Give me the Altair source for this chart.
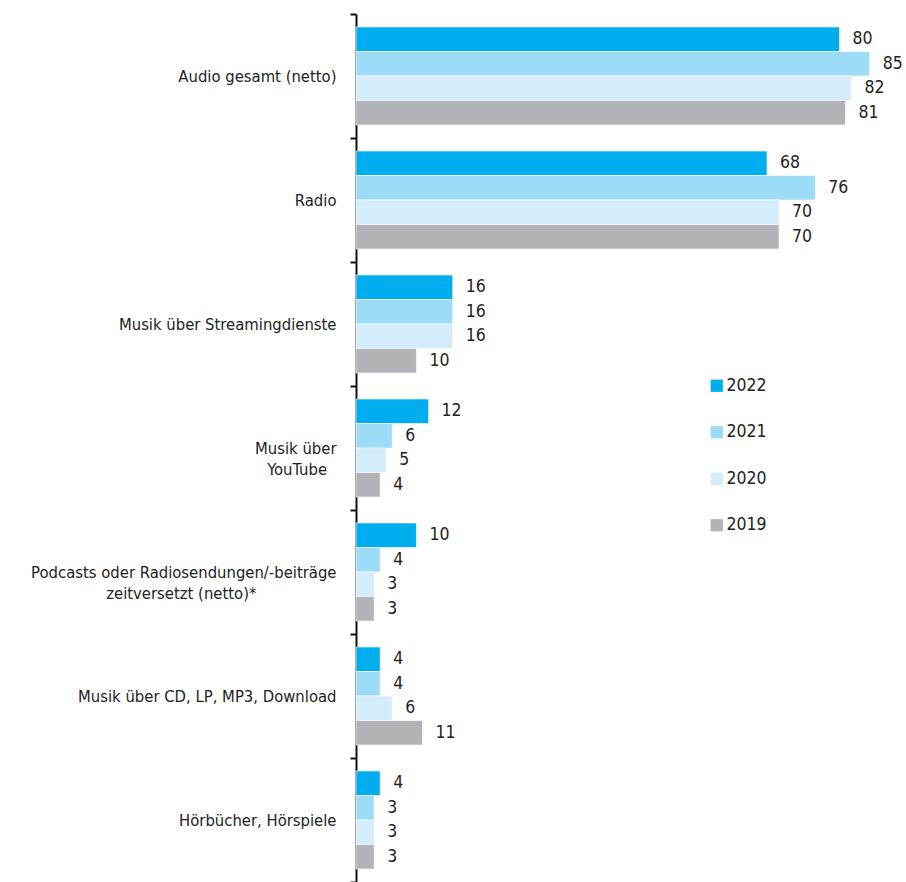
import altair as alt
import pandas as pd

NB = "\u00a0"
ZW = "\u200b"
categories = [
    "Audio gesamt (netto)",
    "Radio",
    "Musik über Streamingdienste",
    "Musik über|YouTube" + NB * 2 + ZW,
    "Podcasts oder Radiosendungen/-beiträge|zeitversetzt (netto)*" + NB * 17 + ZW,
    "Musik über CD, LP, MP3, Download",
    "Hörbücher, Hörspiele",
]
years = ["2022", "2021", "2020", "2019"]
values = {
    "2022": [80, 68, 16, 12, 10, 4, 4],
    "2021": [85, 76, 16, 6, 4, 4, 3],
    "2020": [82, 70, 16, 5, 3, 6, 3],
    "2019": [81, 70, 10, 4, 3, 11, 3],
}
colors = ["#00adef", "#9ddcf7", "#d5edfa", "#b1b3b6"]

rows = []
for y in years:
    for c, v in zip(categories, values[y]):
        rows.append({"cat": c, "year": y, "value": v})
df = pd.DataFrame(rows)

FONT = "DejaVu Sans Condensed, Roboto, sans-serif"

y_axis = alt.Axis(
    tickBand="extent",
    grid=False,
    domainColor="#111",
    domainWidth=2,
    tickColor="#111",
    tickWidth=2,
    tickSize=6,
    labelPadding=14,
    labelFontSize=16.5,
    labelFont=FONT,
    labelColor="#222",
    labelLimit=400,
    labelLineHeight=21,
    labelExpr="split(datum.label, '|')",
)
y_enc = alt.Y(
    "cat:N",
    sort=categories,
    title=None,
    scale=alt.Scale(paddingInner=0, paddingOuter=0),
    axis=y_axis,
)
yoff = alt.YOffset("year:N", sort=years, scale=alt.Scale(paddingInner=0, paddingOuter=0.53))
x_enc = alt.X("value:Q", scale=alt.Scale(domain=[0, 91]), axis=None)

bars = alt.Chart(df).mark_bar(stroke="white", strokeWidth=0.6).encode(
    x=x_enc,
    y=y_enc,
    yOffset=yoff,
    color=alt.Color(
        "year:N",
        sort=years,
        scale=alt.Scale(domain=years, range=colors),
        legend=alt.Legend(
            title=None,
            orient="none",
            legendX=352,
            legendY=363,
            symbolType="square",
            symbolSize=150,
            symbolStrokeWidth=0,
            labelFontSize=17.5,
            labelFont=FONT,
            labelColor="#222",
            rowPadding=27.5,
            labelOffset=1,
        ),
    ),
)

labels = alt.Chart(df).mark_text(
    align="left", baseline="middle", dx=13, fontSize=17.5, font=FONT, color="#222"
).encode(
    x=x_enc,
    y=y_enc,
    yOffset=yoff,
    text="value:Q",
)

chart = (
    alt.layer(bars, labels)
    .properties(
        width=550,
        height=868,
        autosize=alt.AutoSizeParams(type="none"),
        padding={"left": 356, "top": 14, "right": 0, "bottom": 0},
        background="white",
    )
    .configure_view(strokeWidth=0, stroke="transparent")
)

chart.save("out.html", embed_options={"renderer": "svg", "actions": False})
